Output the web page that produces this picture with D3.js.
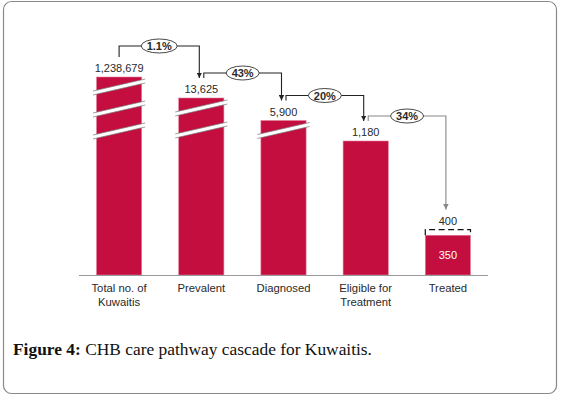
<!DOCTYPE html>
<html>
<head>
<meta charset="utf-8">
<script src="https://cdn.jsdelivr.net/npm/d3@7"></script>
<style>
  html, body { margin: 0; padding: 0; background: #fff; }
  svg { display: block; }
</style>
</head>
<body>
<div id="chart"></div>
<script>
// CHB care pathway cascade for Kuwaitis

const categories = ["Total no. of|Kuwaitis", "Prevalent", "Diagnosed", "Eligible for|Treatment", "Treated"];
const values = [1238679, 13625, 5900, 1180, 350];
const treatedTarget = 400;
const stepPercents = ["1.1%", "43%", "20%", "34%"];
const breakCounts = [3, 2, 1, 0, 0];

const width = 565, height = 397;
const barColor = "#c30e3f";

const svg = d3.select("#chart").append("svg")
  .attr("width", width)
  .attr("height", height);

// figure frame
svg.append("rect")
  .attr("x", 3.5).attr("y", 1.5)
  .attr("width", 553).attr("height", 392)
  .attr("rx", 8)
  .attr("fill", "#fff")
  .attr("stroke", "#8a8a8a")
  .attr("stroke-width", 1.2);

const x = d3.scaleBand()
  .domain(categories)
  .range([78, 489])
  .paddingInner(0.45)
  .paddingOuter(0.225);

// broken axis: piecewise scale so the large bars are compressed
const y = d3.scaleLinear()
  .domain([0, 1180, 5900, 13625, 1238679])
  .range([275, 141, 120.5, 98, 77]);

const cx = i => x(categories[i]) + x.bandwidth() / 2;
const topOf = i => (i === values.length - 1 ? y(treatedTarget) : y(values[i]));

// bars
svg.append("g").selectAll("rect")
  .data(values)
  .join("rect")
  .attr("x", (d, i) => x(categories[i]))
  .attr("y", d => y(d))
  .attr("width", x.bandwidth())
  .attr("height", d => y(0) - y(d))
  .attr("fill", barColor)
  .attr("stroke", "#e2809a")
  .attr("stroke-width", 0.6);

// break marks
const breaks = svg.append("g");
values.forEach((v, i) => {
  for (let k = 0; k < breakCounts[i]; k++) {
    const c = cx(i), yc = y(v) + 10 + k * 22;
    const hw = x.bandwidth() / 2 + 3.5, dy = 6, t = 2;
    const pts = [
      [c - hw, yc + dy - t], [c + hw, yc - dy - t],
      [c + hw, yc - dy + t], [c - hw, yc + dy + t]
    ];
    breaks.append("polygon")
      .attr("points", pts.map(p => p.join(",")).join(" "))
      .attr("fill", "#fff");
    breaks.append("line")
      .attr("x1", pts[0][0]).attr("y1", pts[0][1])
      .attr("x2", pts[1][0]).attr("y2", pts[1][1])
      .attr("stroke", "#777").attr("stroke-width", 0.7);
    breaks.append("line")
      .attr("x1", pts[3][0]).attr("y1", pts[3][1])
      .attr("x2", pts[2][0]).attr("y2", pts[2][1])
      .attr("stroke", "#777").attr("stroke-width", 0.7);
  }
});

// baseline
svg.append("line")
  .attr("x1", 79).attr("x2", 488)
  .attr("y1", y(0) + 0.5).attr("y2", y(0) + 0.5)
  .attr("stroke", "#9a9a9a")
  .attr("stroke-width", 1.2);

// target box for treated
const last = values.length - 1;
const bx0 = x(categories[last]), bx1 = bx0 + x.bandwidth();
svg.append("path")
  .attr("d", `M${bx0},${y(values[last])} V${y(treatedTarget)} H${bx1} V${y(values[last])}`)
  .attr("fill", "none")
  .attr("stroke", "#111")
  .attr("stroke-width", 1.2)
  .attr("stroke-dasharray", "6 3.5");

// value labels
svg.append("g").selectAll("text")
  .data(values)
  .join("text")
  .attr("x", (d, i) => cx(i))
  .attr("y", (d, i) => topOf(i) - 5)
  .attr("text-anchor", "middle")
  .style("font-family", "'Liberation Sans', Arial, sans-serif")
  .style("font-size", "11px")
  .attr("fill", "#2a2a2a")
  .text((d, i) => d3.format(",")(i === last ? treatedTarget : d));

svg.append("text")
  .attr("x", cx(last))
  .attr("y", (y(values[last]) + y(0)) / 2 + 4)
  .attr("text-anchor", "middle")
  .style("font-family", "'Liberation Sans', Arial, sans-serif")
  .style("font-size", "11px")
  .attr("fill", "#fff")
  .text(values[last]);

// category labels
const catG = svg.append("g");
categories.forEach((c, i) => {
  const t = catG.append("text")
    .attr("x", cx(i))
    .attr("y", 292)
    .attr("text-anchor", "middle")
    .style("font-family", "'Liberation Sans', Arial, sans-serif")
    .style("font-size", "11.3px")
    .attr("fill", "#2a2a2a");
  c.split("|").forEach((line, j) => {
    t.append("tspan").attr("x", cx(i)).attr("dy", j ? 13.5 : 0).text(line);
  });
});

// step connectors
svg.append("defs").selectAll("marker")
  .data([["arrDark", "#222"], ["arrGray", "#888"]])
  .join("marker")
  .attr("id", d => d[0])
  .attr("viewBox", "0 0 10 10")
  .attr("refX", 5).attr("refY", 10)
  .attr("markerWidth", 6).attr("markerHeight", 5.5)
  .attr("markerUnits", "userSpaceOnUse")
  .attr("orient", "0")
  .append("path")
  .attr("d", "M0,0 L10,0 L5,10 Z")
  .attr("fill", d => d[1]);

const conn = svg.append("g");
stepPercents.forEach((p, i) => {
  const x0 = cx(i) + (i === 0 ? 0 : 2.5);
  const x1 = cx(i + 1) - 2;
  const y0 = topOf(i) - 20;
  const hy = y0 - (i === 0 ? 11 : 5);
  const y1 = topOf(i + 1) - 20;
  const col = i === stepPercents.length - 1 ? "#888" : "#222";
  conn.append("path")
    .attr("d", `M${x0},${y0} V${hy} H${x1} V${y1}`)
    .attr("fill", "none")
    .attr("stroke", col)
    .attr("stroke-width", 1.1)
    .attr("marker-end", `url(#${i === stepPercents.length - 1 ? "arrGray" : "arrDark"})`);
  const mx = (x0 + x1) / 2;
  conn.append("ellipse")
    .attr("cx", mx).attr("cy", hy)
    .attr("rx", p.length > 3 ? 18 : 16.5).attr("ry", 7)
    .attr("fill", "#fff")
    .attr("stroke", "#333")
    .attr("stroke-width", 0.9);
  conn.append("text")
    .attr("x", mx).attr("y", hy + 4)
    .attr("text-anchor", "middle")
    .style("font-family", "'Liberation Sans', Arial, sans-serif")
    .style("font-size", "11px")
    .style("font-weight", "bold")
    .attr("fill", "#2a2a2a")
    .text(p);
});

// caption
const cap = svg.append("text")
  .attr("x", 13)
  .attr("y", 355)
  .style("font-family", "'Liberation Serif', 'DejaVu Serif', serif")
  .style("font-size", "17.4px")
  .attr("fill", "#111");
cap.append("tspan").style("font-weight", "bold").text("Figure 4:");
cap.append("tspan").text(" CHB care pathway cascade for Kuwaitis.");
</script>
</body>
</html>
